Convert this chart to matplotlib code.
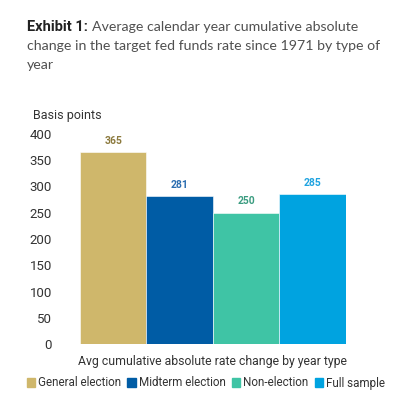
import matplotlib.pyplot as plt

categories = ['General election', 'Midterm election', 'Non-election', 'Full sample']
values = [365, 281, 250, 285]
bar_colors = ['#CFB76B', '#005CA5', '#3FC4A5', '#00A3E0']
label_colors = ['#8C7A3E', '#2A6DB0', '#3A9C80', '#1FA3E0']
yticks = [0, 50, 100, 150, 200, 250, 300, 350, 400]

cond = ['Roboto', 'DejaVu Sans']

fig = plt.figure(figsize=(4.08, 3.95), dpi=100)
ax = fig.add_axes([0.196, 0.129, 0.652, 0.532])

xs = range(len(values))
ax.bar(xs, values, width=1.0, color=bar_colors, edgecolor='white', linewidth=0.4)
for x, v, c in zip(xs, values, label_colors):
    ax.text(x, v + 12, str(v), ha='center', va='bottom', color=c,
            fontsize=7.5, fontweight='bold', family=cond)

ax.set_xlim(-0.5, 3.5)
ax.set_ylim(0, 400)
ax.set_yticks(yticks)
ax.set_yticklabels([str(t) for t in yticks], family=cond, fontsize=9.5, color='#333333')
ax.set_xticks([])
ax.tick_params(axis='y', length=0, pad=20)
for s in ax.spines.values():
    s.set_visible(False)

fig.text(33 / 408, 1 - 116 / 395, 'Basis points', family=cond, fontsize=9,
         color='#333333', va='center')
fig.text(213 / 408, 1 - 361 / 395, 'Avg cumulative absolute rate change by year type',
         family=cond, fontsize=8.8, color='#333333', ha='center', va='center')

# title
fig.text(27 / 408, 1 - 27 / 395, 'Exhibit 1:', family='Roboto', fontweight='bold',
         fontsize=10.5, color='#222222', va='center')
fig.text(92 / 408, 1 - 27 / 395, 'Average calendar year cumulative absolute',
         family='Lato', fontsize=10.2, color='#505050', va='center')
fig.text(27 / 408, 1 - 46 / 395, 'change in the target fed funds rate since 1971 by type of',
         family='Lato', fontsize=10.2, color='#505050', va='center')
fig.text(27 / 408, 1 - 65 / 395, 'year', family='Lato', fontsize=10.2,
         color='#505050', va='center')

handles = [plt.Rectangle((0, 0), 1, 1, color=c) for c in bar_colors]
leg = fig.legend(handles, categories, loc='center', bbox_to_anchor=(206 / 408, 1 - 383 / 395),
                 ncol=4, frameon=False, handlelength=0.7, handleheight=0.7,
                 handletextpad=0.3, columnspacing=0.5,
                 prop={'family': cond, 'size': 8.4})
for t in leg.get_texts():
    t.set_color('#333333')

fig.savefig('out.png', dpi=100)
